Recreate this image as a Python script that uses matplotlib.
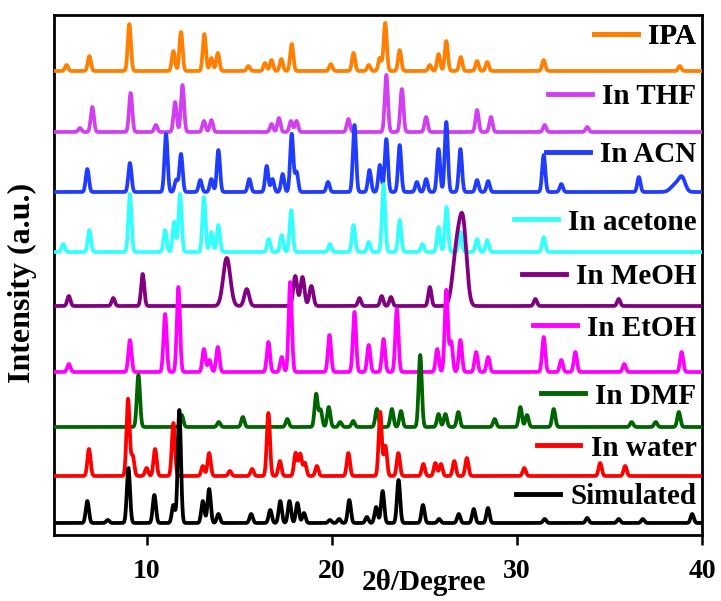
import numpy as np
import matplotlib
matplotlib.use("Agg")
import matplotlib.pyplot as plt

plt.rcParams['font.family'] = ['Liberation Serif', 'DejaVu Serif']
plt.rcParams['font.weight'] = 'bold'

# (2theta, height) or (2theta, height, fwhm)
sim_peaks = [(6.80, 22), (7.9, 3), (9.02, 55), (10.42, 28), (11.45, 18), (11.77, 113),
             (13.04, 22), (13.38, 34), (13.88, 9), (15.65, 9), (16.68, 13), (17.22, 22),
             (17.72, 22), (18.15, 20), (18.5, 10), (19.9, 3), (20.4, 4), (20.95, 23),
             (21.9, 6), (22.4, 16), (22.75, 32), (23.61, 43), (24.93, 18), (25.8, 4),
             (26.86, 9), (27.67, 14), (28.44, 15), (31.5, 4), (33.8, 5), (35.5, 4),
             (36.8, 4), (39.47, 9)]
water_peaks = [(6.89, 27), (9.0, 77), (9.25, 20), (10.0, 8), (10.46, 27), (11.45, 53),
               (13.04, 10), (13.38, 23), (14.5, 5), (15.7, 7), (16.58, 63), (17.2, 15),
               (18.05, 23), (18.3, 22), (18.55, 13), (19.2, 10), (20.9, 23), (22.62, 64),
               (22.9, 30), (23.6, 23), (24.95, 12), (25.6, 13), (25.9, 12), (26.62, 15),
               (27.3, 18), (30.4, 8), (34.5, 13), (35.85, 10)]
dmf_peaks = [(9.56, 52), (11.9, 12), (13.9, 5), (15.2, 10), (17.6, 8), (19.16, 33),
             (19.4, 17), (19.84, 20), (20.46, 5), (21.16, 6), (22.44, 18), (23.25, 18),
             (23.74, 16), (24.78, 72), (25.77, 13), (26.14, 13), (26.84, 15), (28.8, 8),
             (30.19, 20), (30.55, 12), (31.99, 18), (36.2, 5), (37.5, 5), (38.75, 15)]
etoh_peaks = [(5.8, 8), (9.1, 32), (11.0, 58), (11.72, 85), (13.1, 23), (13.4, 12),
              (13.85, 25), (16.58, 30), (17.3, 15), (17.76, 90), (19.88, 37), (21.23, 60),
              (22.0, 27), (22.8, 33), (23.52, 63), (25.7, 23), (26.19, 82), (26.45, 30),
              (26.95, 32), (27.8, 20), (28.45, 15), (31.45, 35), (32.4, 12), (33.16, 20),
              (35.8, 8), (38.9, 20)]
meoh_peaks = [(5.8, 10), (8.2, 8), (9.79, 32), (14.33, 48, 0.45), (15.41, 17, 0.3),
              (18.03, 30, 0.25), (18.42, 29, 0.25), (18.9, 20, 0.25), (21.5, 8), (22.7, 10),
              (23.2, 9), (25.3, 19, 0.2), (26.75, 55, 0.5), (27.1, 75, 0.45), (31.0, 7),
              (35.5, 7)]
acetone_peaks = [(5.5, 8), (6.91, 22), (9.1, 58), (11.0, 22), (11.49, 30), (11.81, 58),
                 (13.1, 55), (13.5, 20), (13.88, 27), (16.6, 13), (17.3, 17), (17.81, 42),
                 (19.9, 8), (21.18, 27), (22.0, 10), (22.8, 68), (23.67, 32), (24.9, 8),
                 (25.77, 25), (26.2, 45), (26.95, 20), (27.85, 13), (28.4, 12), (31.45, 15)]
acn_peaks = [(6.8, 23), (9.1, 29), (11.05, 58), (11.6, 12), (11.86, 38), (12.9, 12),
             (13.5, 13), (13.88, 42), (15.55, 13), (16.49, 26), (16.8, 13), (17.35, 18),
             (17.84, 58), (18.1, 20), (19.8, 10), (21.23, 67), (22.04, 22), (22.6, 27),
             (22.95, 53), (23.67, 47), (24.6, 10), (25.1, 13), (25.77, 43), (26.19, 70),
             (26.95, 43), (27.85, 12), (28.45, 11), (31.45, 37), (32.4, 8), (36.59, 15),
             (38.6, 8, 0.6), (38.93, 12, 0.4)]
thf_peaks = [(6.4, 4), (7.07, 25), (9.14, 39), (10.5, 7), (11.54, 30), (11.94, 47),
             (13.1, 11), (13.5, 12), (16.75, 8), (17.15, 14), (17.8, 11), (18.1, 11),
             (20.9, 13), (22.95, 57), (23.79, 43), (25.1, 15), (27.85, 22), (28.6, 15),
             (31.5, 7), (33.8, 5)]
ipa_peaks = [(5.68, 6), (6.91, 15), (9.07, 47), (11.45, 20), (11.86, 39), (13.12, 37),
             (13.5, 13), (13.85, 18), (15.5, 5), (16.4, 8), (16.75, 11), (17.28, 12),
             (17.84, 27), (19.95, 7), (21.18, 18), (22.0, 6), (22.6, 13), (22.89, 48),
             (23.67, 21), (25.3, 6), (25.77, 17), (26.19, 30), (26.97, 14), (27.85, 10),
             (28.4, 9), (31.45, 11), (38.8, 5)]

labels = ['Simulated', 'In water', 'In DMF', 'In EtOH', 'In MeOH',
          'In acetone', 'In ACN', 'In THF', 'IPA']
patterns = [sim_peaks, water_peaks, dmf_peaks, etoh_peaks, meoh_peaks,
            acetone_peaks, acn_peaks, thf_peaks, ipa_peaks]
offsets = [12, 59, 108, 163, 229, 283, 343, 403, 464]
label_y = [38, 87, 139, 207, 258, 313, 380, 438, 498]
colors = ['#000000', '#ff0000', '#006400', '#ff00ff', '#800080',
          '#33ffff', '#1f3cff', '#d040f0', '#ff8000']


def profile(x, peaks, fwhm=0.2):
    y = np.zeros_like(x)
    for p in peaks:
        w = p[2] if len(p) > 2 else fwhm
        y += p[1] * np.exp(-4 * np.log(2) * ((x - p[0]) / w) ** 2)
    return y


two_theta = np.linspace(5, 40, 3501)

fig = plt.figure(figsize=(7.21, 6.01), dpi=100)
ax = fig.add_axes([54 / 721, 66 / 601, 648 / 721, 520 / 601])

for i, (lab, peaks) in enumerate(zip(labels, patterns)):
    line, = ax.plot(two_theta, profile(two_theta, peaks) + offsets[i],
                    color=colors[i], lw=2.7, zorder=20 - i)
    leg = ax.legend([line], [lab], loc='center right', frameon=False,
                    bbox_to_anchor=(39.7, label_y[i]), bbox_transform=ax.transData,
                    borderpad=0, borderaxespad=0, handlelength=1.5, handletextpad=0.35,
                    prop={'size': 21, 'weight': 'bold'})
    for h in leg.legend_handles:
        h.set_linewidth(3.5)
    ax.add_artist(leg)

ax.set_xlim(5, 40)
ax.set_ylim(0, 520)
ax.set_xticks([10, 20, 30, 40])
ax.set_yticks([])
ax.tick_params(axis='x', direction='out', length=7, width=1.8, pad=10, labelsize=20)
for s in ax.spines.values():
    s.set_linewidth(2)

ax.set_xlabel('2θ/Degree', fontsize=21, fontweight='bold')
ax.xaxis.set_label_coords(0.571, -0.065)
ax.set_ylabel('Intensity (a.u.)', fontsize=23, fontweight='bold')
ax.yaxis.set_label_coords(-0.026, 0.485)

fig.savefig('out.png', dpi=100)
